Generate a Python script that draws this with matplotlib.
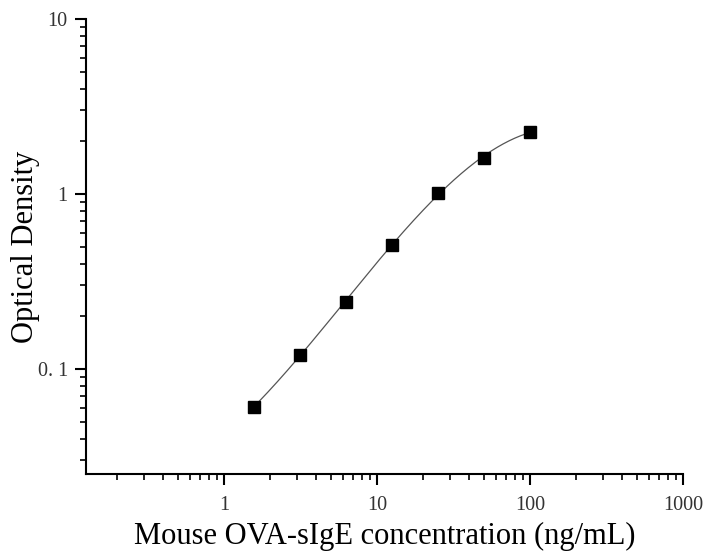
import numpy as np
import matplotlib.pyplot as plt
from matplotlib.ticker import FixedLocator, FixedFormatter, LogLocator, NullFormatter

plt.rcParams['font.family'] = ['Liberation Serif', 'DejaVu Serif']

# standard curve
conc = [1.5625, 3.125, 6.25, 12.5, 25, 50, 100]
od = [0.0605, 0.120, 0.241, 0.512, 1.01, 1.61, 2.26]

y_ticks = [0.1, 1, 10]
y_labels = ['0. 1', '1', '10']
x_ticks = [1, 10, 100, 1000]
x_labels = ['1', '10', '100', '1000']

# smooth fit in log-log space
lx = np.log10(conc)
ly = np.log10(od)
coef = np.polyfit(lx, ly, 3)
xs = np.linspace(np.log10(1.5), lx[-1], 200)
ys = np.polyval(coef, xs)

fig = plt.figure(figsize=(7.04, 5.52), dpi=100)
ax = fig.add_axes([0.122, 0.1413, 0.848, 0.8243])

ax.plot(10**xs, 10**ys, color='#555555', lw=0.9)
ax.plot(conc, od, 's', color='black', ms=8.5)

ax.set_xscale('log')
ax.set_yscale('log')
ax.set_xlim(0.125, 1000)
ax.set_ylim(0.0251, 10)

ax.xaxis.set_major_locator(FixedLocator(x_ticks))
ax.xaxis.set_major_formatter(FixedFormatter(x_labels))
ax.yaxis.set_major_locator(FixedLocator(y_ticks))
ax.yaxis.set_major_formatter(FixedFormatter(y_labels))
ax.xaxis.set_minor_locator(LogLocator(base=10, subs=np.arange(2, 10)))
ax.yaxis.set_minor_locator(LogLocator(base=10, subs=np.arange(2, 10)))
ax.xaxis.set_minor_formatter(NullFormatter())
ax.yaxis.set_minor_formatter(NullFormatter())

for s in ['top', 'right']:
    ax.spines[s].set_visible(False)
for s in ['left', 'bottom']:
    ax.spines[s].set_linewidth(1.5)

ax.tick_params(which='major', direction='out', length=8, width=1.5, labelsize=14.5,
               labelcolor='#333333')
ax.tick_params(which='minor', direction='out', length=4, width=1.2)
ax.tick_params(axis='y', pad=5)
ax.tick_params(axis='x', pad=8)

ax.set_xlabel('Mouse OVA-sIgE concentration (ng/mL)', fontsize=22, labelpad=5)
ax.set_ylabel('Optical Density', fontsize=22)
ax.yaxis.set_label_coords(-0.077, 0.5)

fig.savefig('out.png', dpi=100)
